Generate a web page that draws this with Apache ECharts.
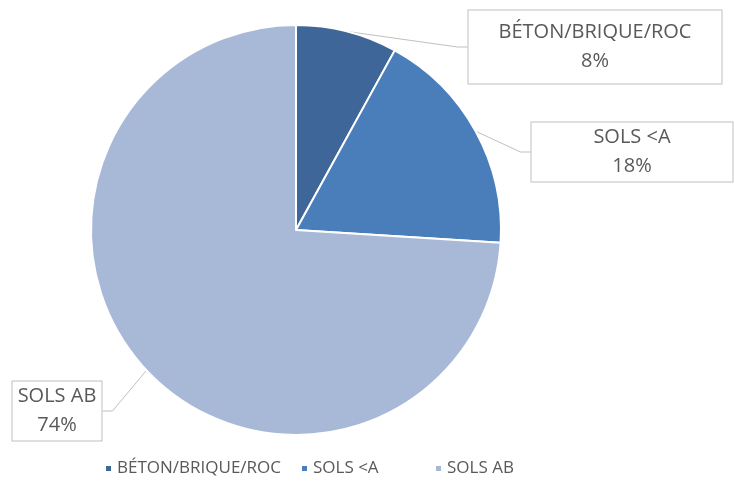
<!DOCTYPE html>
<html><head><meta charset="utf-8">
<script src="https://cdn.jsdelivr.net/npm/echarts@6/dist/echarts.min.js"></script>
<style>html,body{margin:0;padding:0;background:#fff}#c{width:734px;height:489px}</style>
</head><body><div id="c"></div>
<script>
const categories = ['BÉTON/BRIQUE/ROC', 'SOLS <A', 'SOLS AB'];
const values = [8, 18, 74];
const colors = ['#3F6699', '#4A7EBB', '#A8B9D8'];
// label box centers and sizes (layout only)
const boxCenters = [[595, 47], [632, 152], [57, 411]];
const boxSizes = [[253, 73], [201, 59], [89, 59]];

const legendBase = {
  top: 455,
  itemWidth: 7, itemHeight: 7, itemGap: 19,
  icon: 'rect',
  textStyle: {color: '#595959', fontSize: 17, fontFamily: 'Open Sans'}
};

const chart = echarts.init(document.getElementById('c'), null, {renderer: 'canvas'});
chart.setOption({
  animation: false,
  color: colors,
  legend: [
    Object.assign({}, legendBase, {left: 99, data: categories.slice(0, 2)}),
    Object.assign({}, legendBase, {left: 429, data: categories.slice(2)})
  ],
  series: [{
    type: 'pie',
    center: [296, 230],
    radius: 205,
    startAngle: 90,
    clockwise: true,
    itemStyle: {borderColor: '#fff', borderWidth: 2},
    label: {
      show: true,
      formatter: '{b}\n{d}%',
      color: '#595959',
      fontSize: 20,
      fontFamily: 'Open Sans',
      lineHeight: 29,
      align: 'center',
      backgroundColor: '#fff',
      borderColor: '#bfbfbf',
      borderWidth: 1
    },
    labelLine: {show: true, lineStyle: {color: '#bfbfbf', width: 1}, length: 10, length2: 10},
    labelLayout: function (p) {
      const c = boxCenters[p.dataIndex];
      return {x: c[0], y: c[1], align: 'center', verticalAlign: 'middle'};
    },
    data: categories.map((n, i) => ({
      name: n, value: values[i],
      label: {width: boxSizes[i][0], height: boxSizes[i][1] - 10, padding: [5, 0, 5, 0]}
    }))
  }]
});
</script></body></html>
